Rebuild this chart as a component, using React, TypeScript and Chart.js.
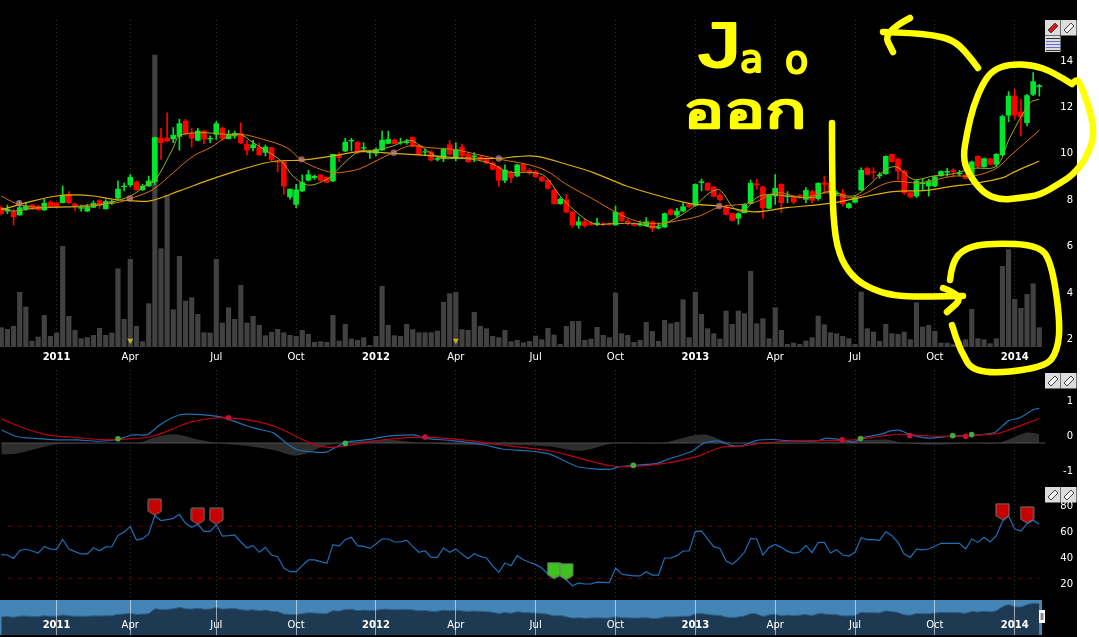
import React, { useEffect, useRef } from "react";
import { Chart, registerables } from "chart.js";

Chart.register(...registerables);

const open = [7.68,7.53,7.49,7.36,7.61,7.79,7.73,7.58,7.92,7.88,7.89,8.25,7.84,7.65,7.53,7.69,7.98,7.63,7.91,8.09,8.58,8.66,8.78,8.44,8.61,8.80,10.68,10.68,10.64,10.75,11.41,10.88,10.58,10.98,10.64,10.84,11.10,10.65,10.77,10.87,10.41,10.26,10.29,10.06,10.26,9.66,9.65,8.14,7.82,8.40,8.86,8.97,9.09,8.99,8.83,9.95,10.12,10.55,10.49,10.24,10.05,10.02,10.16,10.45,10.59,10.47,10.48,10.70,10.36,10.07,10.08,9.76,9.79,10.39,9.80,10.29,9.98,9.88,9.86,9.78,9.60,9.43,8.86,9.19,9.04,9.55,9.29,9.23,9.00,8.86,8.44,7.85,8.02,7.49,6.92,7.07,7.02,6.96,6.99,6.99,6.93,7.48,7.10,6.99,6.93,6.90,7.07,6.80,6.84,7.58,7.36,7.53,7.81,7.77,8.76,8.73,8.57,8.21,7.72,7.42,7.22,7.46,7.86,8.71,8.57,7.65,8.18,8.68,8.15,8.14,8.20,8.04,8.37,8.07,8.75,8.73,8.28,8.30,7.68,7.91,8.44,9.37,9.23,9.06,9.14,9.98,9.78,9.26,8.32,8.18,8.71,8.61,8.61,9.06,9.20,9.29,9.13,9.09,9.00,9.89,9.44,9.78,9.55,9.95,11.66,12.49,11.80,11.34,12.56,12.89];
const high = [7.75,7.79,7.61,7.97,7.89,7.82,7.79,8.04,7.97,7.91,8.61,8.37,7.89,7.79,7.82,7.97,8.02,8.02,8.02,8.83,8.74,9.11,8.83,8.68,9.04,10.72,11.10,11.77,11.13,11.49,11.49,11.10,11.10,11.01,10.77,11.39,11.16,11.01,10.98,11.34,10.58,10.58,10.48,10.38,10.29,9.72,9.69,8.48,8.68,9.09,9.29,9.09,9.09,9.00,9.98,10.05,10.67,10.67,10.55,10.48,10.12,10.26,10.98,10.98,10.64,10.67,10.62,10.72,10.41,10.19,10.12,9.91,10.24,10.58,10.48,10.41,10.05,10.05,9.91,9.83,9.66,9.47,9.52,9.26,9.55,9.59,9.37,9.29,9.03,8.88,8.48,8.11,8.25,7.53,7.28,7.18,7.07,7.22,7.05,7.03,7.75,7.51,7.18,7.03,7.10,7.25,7.10,7.03,7.45,7.61,7.65,7.89,7.85,8.71,8.91,8.76,8.60,8.32,7.79,7.45,7.46,7.85,8.87,8.90,8.61,8.25,9.11,8.71,8.37,8.18,8.25,8.54,8.42,8.75,9.04,8.75,8.40,8.47,7.89,8.18,9.40,9.43,9.40,9.19,9.92,9.99,9.80,9.29,8.35,8.86,8.90,8.90,9.04,9.27,9.37,9.36,9.29,9.11,9.69,9.92,9.82,9.80,10.01,11.67,12.68,12.78,12.35,12.56,13.50,12.99];
const low = [7.36,7.42,6.93,7.36,7.56,7.59,7.56,7.56,7.68,7.68,7.88,7.85,7.56,7.53,7.51,7.68,7.65,7.61,7.82,8.07,8.40,8.57,8.43,8.43,8.60,8.68,9.76,10.52,10.48,10.15,10.81,10.29,10.55,10.44,10.48,10.62,10.58,10.64,10.67,10.44,9.95,10.12,9.93,9.91,9.69,9.22,8.25,8.04,7.68,8.37,8.83,8.90,8.83,8.76,8.80,9.66,10.09,10.12,10.00,10.12,9.80,9.91,10.15,10.44,10.44,10.41,10.41,10.31,9.93,9.91,9.69,9.69,9.66,9.95,9.69,9.83,9.63,9.66,9.72,9.57,9.30,8.61,8.76,8.76,9.01,9.23,9.11,8.97,8.80,8.48,7.82,7.82,7.46,6.84,6.79,6.84,6.92,6.90,6.90,6.92,6.92,7.07,6.93,6.89,6.88,6.88,6.64,6.76,6.82,7.36,7.28,7.49,7.68,7.74,8.40,8.40,8.14,7.96,7.36,7.10,6.96,7.45,7.85,8.47,7.22,7.62,7.82,7.46,7.89,7.85,8.08,7.89,7.89,7.99,8.32,8.04,8.18,7.75,7.65,7.88,8.41,9.09,8.90,8.94,9.11,9.63,8.86,8.25,8.11,8.11,8.42,8.18,8.58,9.03,9.04,9.00,9.04,8.91,8.97,9.37,9.42,9.52,9.43,9.92,11.38,11.49,10.77,11.20,12.51,12.49];
const close = [7.42,7.60,7.29,7.68,7.76,7.62,7.59,7.87,7.71,7.72,8.22,7.89,7.73,7.68,7.69,7.87,7.78,7.94,7.94,8.48,8.61,8.99,8.45,8.61,8.83,10.70,10.48,10.55,10.80,11.30,10.84,10.67,10.98,10.64,10.67,11.30,10.67,10.84,10.88,10.47,10.16,10.39,9.95,10.29,9.75,9.63,8.61,8.48,8.44,8.76,9.10,9.03,8.86,8.77,9.98,9.83,10.50,10.58,10.05,10.27,10.09,10.19,10.59,10.62,10.44,10.49,10.52,10.34,9.98,10.09,9.73,9.80,10.19,9.98,10.19,9.91,9.66,9.91,9.75,9.60,9.33,8.86,9.30,8.97,9.52,9.26,9.17,9.01,8.83,8.51,7.85,8.04,7.49,6.93,7.07,6.90,6.94,7.02,6.94,6.94,7.49,7.10,7.03,6.92,6.99,7.07,6.79,6.84,7.42,7.39,7.53,7.72,7.72,8.68,8.80,8.43,8.17,8.02,7.39,7.13,7.42,7.82,8.73,8.65,7.68,8.21,8.51,7.89,8.18,7.92,8.14,8.42,8.00,8.73,8.68,8.40,8.32,7.85,7.85,8.11,9.29,9.11,9.19,9.10,9.89,9.66,9.26,8.32,8.14,8.83,8.75,8.83,9.01,9.24,9.24,9.23,9.17,8.94,9.65,9.46,9.79,9.55,9.98,11.61,12.49,11.66,11.59,12.51,13.11,12.94];
const volume = [5.8,5.3,6.2,16.4,12,1.8,3,9.5,3.2,4.2,30.2,9.2,5,2.5,2.8,3.5,5.6,3.5,4.2,23.5,8.3,26.3,6.2,1.6,13,87.6,29.5,45.5,11.2,27.2,13.8,14.8,9.8,4.3,4.2,26.3,7.2,11.8,8.3,18.5,7.2,9.2,6.5,3.4,4.4,5.3,4.3,3.5,3.2,5,3.8,1.4,1.6,1.4,9.5,1.8,6.8,2.4,2,2.8,0.5,3.2,18.2,6.5,3.4,3.2,6.8,5.2,4.3,4.3,4.3,4.8,13.4,16,16.4,5.2,5,10.4,6.2,5.5,3.2,2.8,5,1.6,2,1.3,1.7,3.3,2.2,5.6,3.6,0.8,6.2,7.7,7.7,2,2.4,5.9,3.5,2.8,16.2,4,3.5,1.4,2,7.4,4.7,1.7,8,7,7.4,14.2,2.8,16.4,9.8,5.5,4,2.4,10.8,6.8,10.8,10,22.7,7,8.5,2.5,11.8,5,0.8,1.2,0.8,1.8,2.8,9.3,6.7,4.3,4,3.2,2.5,0.8,16.5,5.5,4.5,1.7,6.8,4,3.8,4.5,2.2,13.3,6,6.5,4.7,1.2,1.2,0.7,1.5,2.2,11.3,2.5,2.2,1,2.5,24.2,29.2,14.3,11.6,15.8,19,5.8];
const rsi = [42.6,42.3,39.7,45.6,46.9,45.4,43.8,48.9,46.9,46.7,54.4,46.9,44.9,43.1,43.1,47.9,45.6,48.5,48.7,57.4,60,64.1,53.8,54.9,58.5,72.6,68.7,69.5,70.5,73.6,66.7,63.6,65.9,60.5,60.5,65.6,56.9,57.2,57.7,52.3,47.7,49.7,44.4,48.2,42.3,41,32.3,29.5,29.5,34.1,38.5,38.5,37.2,35.9,50.3,49.2,54.1,55.9,49.5,48.9,47.4,50.8,54.6,54.6,52.3,52.3,53.8,49,44.4,45.6,40.5,40.5,47.7,44.4,47,43,39.5,43.3,41.3,40,34,29,36.2,34.1,41.8,38.7,36.7,34.9,32.3,27.7,24.6,26.4,23.1,18.7,20.8,20,20,21.5,21.3,21,32.3,27.7,26.9,26.2,26.2,29.5,26.9,26.9,40,40,41.8,45.4,45.4,60.3,60.8,54.6,48.7,47.4,37.9,35.1,39.2,44.4,55.1,54.6,42.3,48.2,50.5,48.2,45.1,43.8,44.6,49.7,44.1,52,52,43.8,46.4,42.3,41.5,44.4,55.6,54.1,54.1,53.6,60.3,57.2,52,43,40.5,46.9,46.2,46.9,49,51.3,51.3,51.3,51.3,46.9,54.6,52,55.9,52.3,57.2,68.2,72.3,62.3,60.8,66.2,69,65.9];

const ma5X = [0,2,5.2,10,12.8,16,18.8,21.5,23.7,25,28,29,32.3,36.7,38.9,41,43.2,45.6,47.5,50,53,54,56.2,58.4,61,63.8,66.5,68.7,71.4,74.7,76.8,80.1,82.3,86.6,88.5,91,93.1,96.4,99.6,103.4,106.1,108.3,110.5,113.2,115.4,117,119.2,120.8,123,125.1,127.9,132.2,134.4,138.7,141.4,144.1,145.8,148.5,151.7,155,158.2,162,164.2,167.5,169];
const ma5Y = [7.65,7.53,7.65,7.71,7.71,7.79,7.97,8.25,8.68,8.83,10.26,10.77,10.91,10.84,10.84,10.48,10.12,9.69,9.04,8.65,8.90,9.11,9.69,10.12,10.15,10.34,10.58,10.26,9.83,9.80,9.76,9.55,9.23,9.19,9.04,8.18,7.61,6.99,6.99,6.99,6.84,7.03,7.32,7.82,8.33,8.43,7.68,7.53,8.11,8.25,8.18,8.11,8.37,8.18,8.68,9.33,9.43,8.90,9.04,9.14,9.37,9.47,10.69,12.20,12.35];
const ma20X = [0,2.5,5.2,10.6,15.5,18.8,21.5,24.75,28,31.3,34,36.7,38.9,42.65,46.5,48.9,51.3,54,56.2,58.4,61,63.8,66.5,69.8,73.6,77.4,81.2,85.5,88.8,92,96.4,100.2,103.4,106.7,110.5,113.7,117,122.4,126.2,130.6,134.4,138.7,144.7,149.6,155,158.2,162,164.2,169];
const ma20Y = [8.18,7.85,7.71,7.71,7.82,7.89,8.11,8.47,9.19,9.91,10.26,10.72,10.84,10.62,10.26,9.72,9.40,9.19,9.23,9.36,9.69,10.05,10.34,10.26,10.19,9.98,9.76,9.55,9.26,8.68,8.04,7.46,7.10,6.99,7.13,7.32,7.71,7.89,8.32,8.11,8.32,8.11,8.78,8.75,9.04,9.04,9.37,9.90,11.01];
const ma50X = [0,5.2,9,12.3,15,18.2,21.5,24.2,29,33.4,37.8,42.1,44.8,48.9,54,58.4,63.8,69.3,74.7,81.1,83.9,87.2,92,96.4,101.8,107.2,111,113.2,117,122.4,127.9,134.9,139.8,145.2,150.6,155,158.2,163.1,164.7,169];
const ma50Y = [7.59,7.97,8.18,8.23,8.18,8.04,7.97,7.97,8.40,8.83,9.22,9.55,9.69,9.73,9.91,10.09,10.02,9.93,9.83,9.80,9.88,9.89,9.55,9.19,8.61,8.18,7.92,7.82,7.75,7.50,7.68,7.86,8.11,8.37,8.42,8.61,8.71,8.97,9.19,9.69];
const crossX = [2.9,20.95,48.9,63.9,81,116.9];
const crossY = [7.87,8.07,9.76,10.05,9.80,7.75];

const macdX = [0,2.6,5.5,8.9,12.4,15.8,19,21.2,23.8,26,28.9,31.8,35.2,36.9,39.8,42,44.3,46.6,48.3,52.9,56,60.3,62.6,67.2,68.9,73.5,78.6,81.5,85.5,89.2,91.5,93.7,96.6,99.2,100.6,102.9,106.9,108.6,112.3,114.3,116.6,118.9,120.6,122.9,125.7,128.6,133.1,134.3,136.9,138.9,140,143.4,144.6,146.3,148,150.9,154.8,157.7,161.7,164,165.7,168,169];
const macdY = [0.17,-0.02,-0.07,-0.11,-0.11,-0.15,-0.10,0.03,0.04,0.34,0.60,0.62,0.56,0.49,0.30,0.19,0.09,-0.23,-0.40,-0.46,-0.18,-0.09,-0.01,0.03,-0.07,-0.13,-0.25,-0.37,-0.42,-0.51,-0.69,-0.87,-0.94,-0.95,-0.88,-0.84,-0.78,-0.66,-0.45,-0.21,-0.14,-0.27,-0.28,-0.13,-0.10,-0.14,-0.13,-0.06,-0.11,-0.18,-0.06,0.06,0.14,0.16,0.04,-0.06,0,0.01,0.10,0.44,0.51,0.75,0.79];
const signalX = [0,2.6,7.2,11.8,16.9,19,24.3,28.3,30.6,34,36.9,40.9,44.9,50,52.9,56,62.6,68.9,76.3,82.6,89.2,91.5,96.6,99.2,102.9,108,113.2,117.2,120.6,123.4,128.6,133.1,138.9,143.4,146.3,150.9,154.8,161.7,163.4,169];
const signalY = [0.49,0.30,0.04,-0.04,-0.11,-0.10,-0.02,0.23,0.39,0.50,0.52,0.44,0.25,-0.18,-0.32,-0.28,-0.10,-0.03,-0.13,-0.28,-0.42,-0.51,-0.75,-0.85,-0.87,-0.78,-0.59,-0.32,-0.29,-0.21,-0.15,-0.13,-0.11,0,0.05,0,-0.01,0.06,0.13,0.50];
const histX = [0,2.6,5.5,9.5,19,22.6,24.9,28.3,31.8,35.2,39.8,44.3,48.3,52.9,56,62.6,68.3,74,82,89.3,94.3,100,107.4,114.3,118.9,134.9,144,146.9,152,157.7,162.3,166.8,169];
const histY = [-0.33,-0.30,-0.17,-0.03,0,0.02,0.16,0.25,0.11,0,-0.08,-0.20,-0.36,-0.07,0,0.09,0,-0.05,-0.05,-0.10,-0.22,0,0,0.24,0,0.03,0.10,0,-0.05,0,0,0.29,0.26];
const macdDotX = [19,37,56,69,102.9,136.9,139.9,147.9,154.9,157,158];
const macdDotY = [-0.08,0.52,-0.21,-0.03,-0.84,-0.11,-0.07,0.01,0.01,-0.01,0.04];
const macdDotColor = ["#4aa83a","#c8102e","#2fb84a","#c8102e","#4aa83a","#c8102e","#4aa83a","#c8102e","#4aa83a","#c8102e","#4aa83a"];

const sellX = [25,32,35,163,167];
const sellY = [79,72.1,72.1,75.6,73.1];
const buyX = [90,92];
const buyY = [30.3,29.5];
const rsiLevels = [64.4,24.4];

const tickIdx = [9,21,35,48,61,74,87,100,113,126,139,152,165];
const tickText = ["2011","Apr","Jul","Oct","2012","Apr","Jul","Oct","2013","Apr","Jul","Oct","2014"];
const priceTicks = [2,4,6,8,10,12,14];
const macdTicks = [-1,0,1];
const rsiTicks = [20,40,60,80];

const FONT = "'DejaVu Sans', sans-serif";
const pts = (xs: number[], ys: number[]) => xs.map((x, i) => ({ x, y: ys[i] }));
const idx = close.map((_, i) => i);
const labelOf = (v: any) => { const k = tickIdx.indexOf(v); return k >= 0 ? tickText[k] : ""; };

function xScale(extra: any = {}) {
  return {
    type: "linear", position: "bottom", offset: false, min: -0.21, max: 170.09,
    afterBuildTicks: (s: any) => { s.ticks = tickIdx.map((value) => ({ value })); },
    afterFit: (s: any) => { s.height = extra.height ?? 0; s.paddingLeft = 0; s.paddingRight = 0; s.paddingTop = 0; s.paddingBottom = 0; },
    grid: { display: true, offset: false, color: "#2f3d33", drawTicks: false, z: extra.gridZ ?? 0 },
    border: { display: false, dash: [1, 3] },
    ticks: {
      display: !!extra.labels, autoSkip: false, maxRotation: 0, color: "#fff", padding: extra.padding ?? 4,
      mirror: !!extra.mirror, callback: labelOf, z: 1,
      font: (c: any) => ({ family: FONT, size: 10, weight: c.tick && /^\d/.test(labelOf(c.tick.value)) ? "bold" : "normal" }),
    },
  };
}
function yScale(min: number, max: number, ticks: number[]) {
  return {
    type: "linear", position: "right", min, max, beginAtZero: false,
    afterBuildTicks: (s: any) => { s.ticks = ticks.map((value) => ({ value })); },
    afterFit: (s: any) => { s.width = 27; s.paddingTop = 0; s.paddingBottom = 0; s.paddingLeft = 0; s.paddingRight = 0; },
    grid: { display: false },
    border: { display: false },
    ticks: { color: "#fff", crossAlign: "far", padding: 0, autoSkip: false, callback: (v: any) => String(v), font: { family: FONT, size: 10 } },
  };
}
const hidden = (min: number, max: number) => ({ type: "linear", display: false, min, max, beginAtZero: false });
const base = {
  responsive: false, animation: false, devicePixelRatio: 1,
  layout: { padding: 0, autoPadding: false },
  plugins: { legend: { display: false }, tooltip: { enabled: false } },
  events: [] as string[],
};

function shield(fill: string) {
  const c = document.createElement("canvas");
  c.width = 15; c.height = 18;
  const g = c.getContext("2d")!;
  g.beginPath();
  g.moveTo(1, 1); g.lineTo(14, 1); g.lineTo(14, 13); g.lineTo(7.5, 17); g.lineTo(1, 13); g.closePath();
  g.fillStyle = fill; g.fill();
  g.strokeStyle = "#777"; g.lineWidth = 1; g.stroke();
  return c;
}

function configs(): any[] {
  const up = "#00e62e", dn = "#ff0000";
  const colors = close.map((c, i) => (c >= open[i] ? up : dn));
  const line = (xs: number[], ys: number[], color: string, width = 1.1, tension = 0.35) => ({
    type: "line", data: pts(xs, ys), borderColor: color, borderWidth: width, pointRadius: 0, tension, fill: false, order: 1,
  });
  const price = {
    type: "bar",
    data: { datasets: [
      { ...line(crossX, crossY, "transparent"), showLine: false, pointRadius: 3.2, pointBackgroundColor: "rgba(190,130,125,0.75)", pointBorderWidth: 0, order: 0 },
      line(ma5X, ma5Y, "#a6ad1e", 1),
      line(ma20X, ma20Y, "#dc6e10", 1),
      line(ma50X, ma50Y, "#e0ae08", 1.2),
      { type: "bar", data: idx.map((i) => ({ x: i, y: [open[i], close[i]] })), backgroundColor: colors, barThickness: 5, grouped: false, order: 2, yAxisID: "y" },
      { type: "bar", data: idx.map((i) => ({ x: i, y: [low[i], high[i]] })), backgroundColor: colors, barThickness: 1, grouped: false, order: 3, yAxisID: "y" },
      { type: "bar", data: idx.map((i) => ({ x: i, y: volume[i] })), backgroundColor: "#414141", barThickness: 4.5, grouped: false, order: 4, yAxisID: "vol" },
      { type: "line", data: [{ x: 21, y: 1.95 }, { x: 74, y: 1.95 }], showLine: false, pointStyle: "triangle", rotation: 180, pointRadius: 3.5, pointBackgroundColor: "#c9b21c", pointBorderWidth: 0, order: 0 },
    ] },
    options: { ...base, scales: {
      x: xScale({ labels: true, height: 23, padding: 4 }),
      y: yScale(1.672, 15.767, priceTicks),
      vol: hidden(0, 98.1),
    } },
  };
  const macd = {
    type: "line",
    data: { datasets: [
      { ...line(macdDotX, macdDotY, "transparent"), showLine: false, pointRadius: 2.8, pointBackgroundColor: macdDotColor, pointBorderWidth: 0, order: 0 },
      line(signalX, signalY, "#c00018", 1.2, 0.3),
      line(macdX, macdY, "#1e6fb4", 1.2, 0.2),
      { type: "line", data: pts(histX, histY), yAxisID: "hist", borderWidth: 0, pointRadius: 0, tension: 0.35, fill: { value: 0 }, backgroundColor: "#2e2e2e", order: 5 },
      { type: "line", data: [{ x: 0, y: 0 }, { x: 170, y: 0 }], yAxisID: "hist", borderColor: "#4c4c4c", borderWidth: 1, pointRadius: 0, order: 4 },
    ] },
    options: { ...base, scales: { x: xScale(), y: yScale(-1.485, 1.886, macdTicks), hist: hidden(-1.285, 2.086) } },
  };
  const rsiCfg = {
    type: "line",
    data: { datasets: [
      { type: "line", data: pts(sellX, sellY), showLine: false, pointStyle: shield("#c70000"), pointRadius: 8, order: 0 },
      { type: "line", data: pts(buyX, buyY), showLine: false, pointStyle: shield("#3fc21f"), pointRadius: 8, order: 0 },
      { type: "line", data: pts(idx, rsi), borderColor: "#1c6fb8", borderWidth: 1.2, pointRadius: 0, tension: 0, order: 1 },
      ...rsiLevels.map((y) => ({ type: "line", data: [{ x: 1, y }, { x: 169, y }], borderColor: "#5e0808", borderWidth: 1, borderDash: [5, 5], pointRadius: 0, order: 3 })),
    ] },
    options: { ...base, scales: { x: xScale(), y: yScale(9.24, 93.84, rsiTicks) } },
  };
  const nav = {
    type: "line",
    data: { datasets: [
      { type: "line", data: pts(idx, close), borderColor: "#2a5f8c", borderWidth: 1, pointRadius: 0, tension: 0.3, fill: { target: "start" }, backgroundColor: "#1d3a52" },
    ] },
    options: { ...base, scales: {
      x: { ...xScale({ labels: true, height: 0, padding: 4, mirror: true, gridZ: 1 }), max: 169.44, grid: { display: true, offset: false, color: "rgba(255,255,255,0.55)", drawTicks: false, z: 1 }, border: { display: false } },
      y: { type: "linear", display: false, min: -0.12, max: 14.46, beginAtZero: false },
    } },
  };
  return [price, macd, rsiCfg, nav];
}

const panels = [
  { top: 20, width: 1073, height: 350, bg: "transparent" },
  { top: 370, width: 1073, height: 118, bg: "transparent" },
  { top: 488, width: 1073, height: 110, bg: "transparent" },
  { top: 600, width: 1042, height: 35, bg: "#4585b5" },
];

const smooth = (p: number[][]) => {
  let d = `M${p[0][0]} ${p[0][1]}`;
  for (let i = 1; i < p.length - 1; i++) {
    const mx = (p[i][0] + p[i + 1][0]) / 2, my = (p[i][1] + p[i + 1][1]) / 2;
    d += ` Q${p[i][0]} ${p[i][1]} ${mx} ${my}`;
  }
  const l = p[p.length - 1];
  return d + ` L${l[0]} ${l[1]}`;
};

const strokes: number[][][] = [
  [[978,68],[967,53],[953,40],[933,35],[910,33],[883,32]],
  [[910,18],[883,32],[893,52]],
  [[1072,84],[1053,72],[1033,65],[1010,64],[993,70],[983,83],[973,107],[967,133],[963,157],[968,173],[983,193],[1000,200],[1020,198],[1040,195],[1057,185],[1073,175],[1087,157],[1095,133],[1088,103],[1078,78],[1072,84]],
  [[950,280],[952,262],[965,248],[990,243],[1040,245],[1052,265],[1060,320],[1058,350],[1045,368],[975,375],[960,350],[952,325]],
  [[832,123],[832,160],[833,217],[838,253],[852,277],[873,290],[900,297],[963,296]],
  [[943,288],[965,296],[947,312]],
];

function Tool({ x, y, red }: { x: number; y: number; red?: boolean }) {
  return (
    <g>
      <rect x={x} y={y} width={15.5} height={15.5} fill="#dcdcdc" />
      <polygon points={`${x + 3},${y + 10} ${x + 10},${y + 3} ${x + 13},${y + 6} ${x + 6},${y + 13}`} fill={red ? "#d81818" : "#f4f4f4"} stroke="#444" />
    </g>
  );
}

export default function App() {
  const refs = useRef<(HTMLCanvasElement | null)[]>([]);
  useEffect(() => {
    document.body.style.margin = "0";
    document.body.style.background = "#fff";
    const cfgs = configs();
    const charts = cfgs.map((cfg, i) => new Chart(refs.current[i]!, cfg));
    return () => charts.forEach((c) => c.destroy());
  }, []);
  return (
    <div style={{ position: "fixed", left: 0, top: 0, width: 1099, height: 637, background: "#fff", overflow: "hidden" }}>
      <div style={{ position: "absolute", left: 0, top: 0, width: 1077, height: 637, background: "#000" }} />
      {panels.map((p, i) => (
        <canvas
          key={i}
          ref={(el) => { refs.current[i] = el; }}
          width={p.width}
          height={p.height}
          style={{ position: "absolute", left: 0, top: p.top, width: p.width, height: p.height, background: p.bg, display: "block" }}
        />
      ))}
      <svg width={1099} height={637} style={{ position: "absolute", left: 0, top: 0 }} fontFamily={FONT}>
        <Tool x={1045} y={20} red />
        <Tool x={1061} y={20} />
        <rect x={1045} y={36} width={15.5} height={16} fill="#dcdcdc" />
        {[38, 41, 44, 47, 50].map((y, i) => (
          <rect key={y} x={1046} y={y} width={14} height={1} fill={i === 0 || i === 4 ? "#333" : "#6a6ae0"} />
        ))}
        <Tool x={1045} y={373} />
        <Tool x={1061} y={373} />
        <Tool x={1045} y={487} />
        <Tool x={1061} y={487} />
        <rect x={1039} y={610} width={6} height={13} fill="#fff" />
        <rect x={1040.5} y={613} width={3} height={7} fill="#888" />
        <g fill="none" stroke="#ffff00" strokeWidth={6.5} strokeLinecap="round" strokeLinejoin="round">
          {strokes.map((s, i) => <path key={i} d={smooth(s)} />)}
        </g>
        <g fill="#ffff00" stroke="#ffff00" strokeWidth={2} strokeLinejoin="round">
          <text transform="translate(692,67) scale(1.35,1)" fontSize={66} fontFamily="'Liberation Mono', monospace">J</text>
          <text x={740} y={72} fontSize={38}>a</text>
          <text x={785} y={73} fontSize={38}>o</text>
          <text transform="translate(683,128) scale(1.57,1.15)" fontSize={44}>ออก</text>
        </g>
      </svg>
    </div>
  );
}
